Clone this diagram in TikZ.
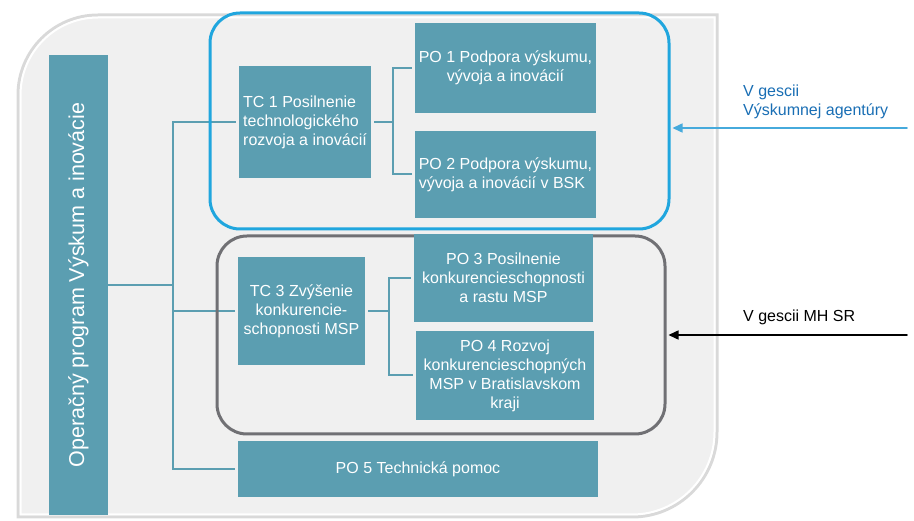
\documentclass[tikz,border=0pt]{standalone}
\usepackage{fontspec}
\setmainfont{Liberation Sans}
\usepackage{tikz}
\usetikzlibrary{arrows.meta}
\definecolor{tealbox}{RGB}{91,158,177}
\definecolor{frameblue}{RGB}{32,166,222}
\definecolor{framegray}{RGB}{112,112,116}
\definecolor{panelfill}{RGB}{240,240,240}
\definecolor{arrowblue}{RGB}{70,170,220}
\definecolor{labelblue}{RGB}{25,110,180}
\pgfdeclarelayer{back}
\pgfdeclarelayer{mid}
\pgfsetlayers{back,mid,main}

\begin{document}
\begin{tikzpicture}[line cap=round,line join=round,x=1pt,y=-1pt,
    box/.style={fill=tealbox,text=white,inner sep=0pt,align=center,font=\fontsize{16}{19}\selectfont},
    link/.style={draw=tealbox,line width=2pt},
    frame/.style={rounded corners=30pt,line width=3pt,inner sep=0pt},
    gesto/.style={anchor=west,inner sep=0pt,align=left,font=\fontsize{16}{19}\selectfont}]
          \useasboundingbox (0,0) rectangle (914,521);

          \begin{pgfonlayer}{back}
          \filldraw[fill=panelfill,draw=gray!30,line width=3pt] (18,517) -- (18,95) arc[start angle=180,end angle=270,radius=80] -- (717,15) -- (717,432) arc[start angle=0,end angle=90,radius=85] -- cycle;
          \draw[white,line width=2pt] (20.5,514.5) -- (20.5,95) arc[start angle=180,end angle=270,radius=77.5] -- (714.5,17.5) -- (714.5,432) arc[start angle=0,end angle=90,radius=82.5] -- cycle;
          \end{pgfonlayer}

          \node[box,minimum width=59pt,minimum height=460pt] (bar) at (78.5,285) {};
          \node[rotate=90,text=white,font=\fontsize{21.5}{26}\selectfont] (bartext) at (bar.center) {Operačný program Výskum a inovácie};

          \node[box,align=left,minimum width=132pt,minimum height=112pt] (tc1) at (305,122) {TC 1 Posilnenie\\technologického\\rozvoja a inovácií};
          \node[box,minimum width=181pt,minimum height=90pt] (po1) at (505.5,68) {PO 1 Podpora výskumu,\\vývoja a inovácií};
          \node[box,align=left,minimum width=181pt,minimum height=87pt] (po2) at (505.5,174.5) {PO 2 Podpora výskumu,\\vývoja a inovácií v BSK};
          \node[box,minimum width=127pt,minimum height=108pt] (tc3) at (301.5,311) {TC 3 Zvýšenie\\konkurencie-\\schopnosti MSP};
          \node[box,minimum width=179pt,minimum height=88pt] (po3) at (503.5,278) {PO 3 Posilnenie\\konkurencieschopnosti\\a rastu MSP};
          \node[box,minimum width=178pt,minimum height=89pt] (po4) at (505,375.5) {PO 4 Rozvoj\\konkurencieschopných\\MSP v Bratislavskom\\kraji};
          \node[box,minimum width=360pt,minimum height=56pt] (po5) at (418,469) {PO 5 Technická pomoc};

          \coordinate (trunk) at (173,285);
          \coordinate (fork1) at (393,122);
          \coordinate (fork3) at (389,311);

          \begin{pgfonlayer}{mid}
          \draw[link] (bar.east) -- (trunk);
          \draw[link,shorten <=3pt,shorten >=3pt] (tc1.west) -| (trunk |- po5.west) -- (po5.west);
          \draw[link,shorten <=3pt] (tc3.west) -- (trunk |- tc3.west);
          \draw[link,shorten <=3pt] (tc1.east) -- (fork1);
          \draw[link,shorten <=3pt,shorten >=3pt] (po1.west) -| (fork1 |- po2.west) -- (po2.west);
          \draw[link,shorten <=3pt] (tc3.east) -- (fork3);
          \draw[link,shorten <=3pt,shorten >=3pt] (po3.west) -| (fork3 |- po4.west) -- (po4.west);

          \node[frame,draw=frameblue,minimum width=459pt,minimum height=216pt] (vaframe) at (439.5,121) {};
          \node[frame,draw=framegray,minimum width=448pt,minimum height=198pt] (mhframe) at (441,335) {};
          \end{pgfonlayer}

          \coordinate (vastart) at (907,128);
          \coordinate (mhstart) at (907,335);
          \draw[arrowblue,line width=1.5pt,shorten >=2pt,-{Triangle[length=10pt,width=9pt]}] (vastart) -- (vastart -| vaframe.east);
          \draw[black,line width=1.5pt,shorten >=2pt,-{Triangle[length=10pt,width=9pt]}] (mhstart) -- (mhstart -| mhframe.east);

          \node[gesto,text=labelblue] (valabel) at (743,102) {V gescii\\Výskumnej agentúry};
          \node[gesto] (mhlabel) at (743,317) {V gescii MH SR};

        \end{tikzpicture}
\end{document}
